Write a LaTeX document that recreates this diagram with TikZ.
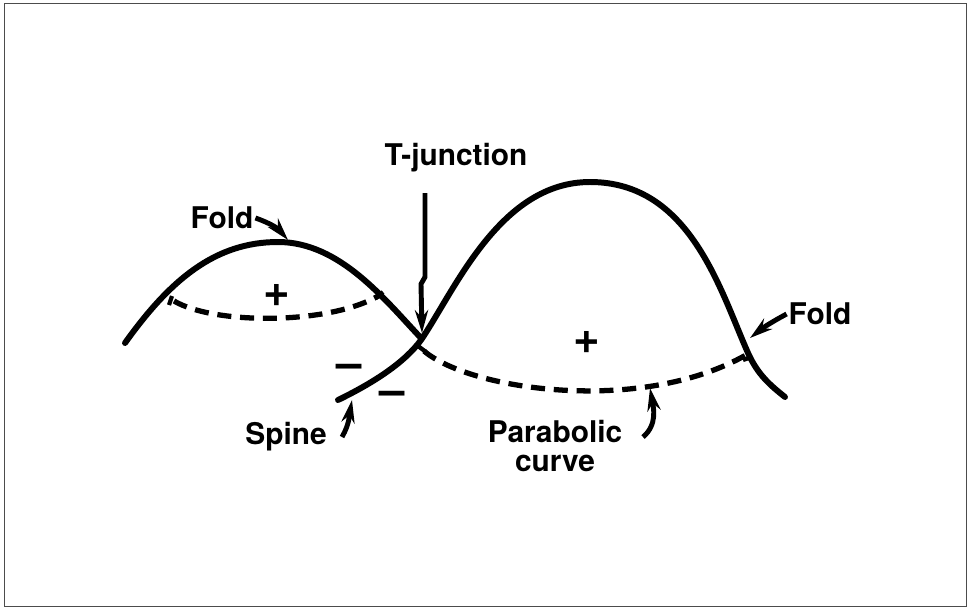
\documentclass[tikz,border=0pt]{standalone}
\usepackage{fontspec}
\setmainfont{TeX Gyre Heros}
\usetikzlibrary{arrows.meta, positioning}

\begin{document}
\begin{tikzpicture}[x=0.02cm, y=-0.02cm,
    foldline/.style={line width=3.4pt, line cap=round},
    parabolic/.style={line width=3pt, dash pattern=on 8pt off 5pt},
    tickmark/.style={line width=2.4pt},
    pointer/.style={line width=2.8pt, -{Stealth[length=13pt, width=7.5pt]}},
    labeltext/.style={font=\bfseries\fontsize{17}{18}\selectfont, inner sep=1pt},
    signtext/.style={font=\bfseries\fontsize{26}{26}\selectfont, inner sep=0pt}]
  \useasboundingbox (0,0) rectangle (969,609);
  % Frame
  \draw[line width=0.5pt, black!70] (4,3) rectangle (966,606);

  % Small hump with its fold
  \draw[foldline] (125,343) .. controls (170,280) and (215,242) .. (278,242)
    .. controls (340,242) and (385,300) .. (421,338);

  % Spine rising into the big hump
  \draw[foldline] (338,400) .. controls (375,382) and (405,362) .. (421,340)
    .. controls (455,290) and (500,182) .. (590,182)
    .. controls (690,182) and (720,290) .. (748,353)
    .. controls (758,375) and (770,385) .. (785,397);

  % Parabolic curves
  \draw[parabolic] (174,301) .. controls (215,325) and (330,325) .. (380,295);
  \draw[parabolic] (424,351) .. controls (470,390) and (640,415) .. (746,355);
  \draw[tickmark] (172,296) -- (169,305);
  \draw[tickmark] (376,298) -- (383,292);
  \draw[tickmark] (418,346) -- (426,352);
  \draw[tickmark] (743,360) -- (752,357);

  % Signs
  \node[signtext] (plusL) at (277,295) {+};
  \node[signtext] (plusR) at (587,342) {+};
  \node[signtext] (minusA) at (349,371) {–};
  \node[signtext] (minusB) at (392,398) {–};

  % Points on the curves
  \coordinate (foldLpt) at (288,240);
  \coordinate (foldRpt) at (750,338);
  \coordinate (tjpt) at (422,333);
  \coordinate (spinept) at (352,400);
  \coordinate (parpt) at (650,388);

  % Labels
  \node[labeltext] (tjlbl) at (456,158) {T-junction};
  \node[labeltext] (foldLlbl) at (222,218) {Fold};
  \node[labeltext] (foldRlbl) at (820,314) {Fold};
  \node[labeltext] (spinelbl) at (286,437) {Spine};
  \node[labeltext, align=center, font=\bfseries\fontsize{17}{15}\selectfont]
    (parlbl) at (555,446) {Parabolic\\[1pt]curve};

  % Pointers
  \draw[pointer] (425,193) -- (425,277) -- (421,284) -- (tjpt);
  \draw[pointer] (foldLlbl.east) to[bend left=15] (foldLpt);
  \draw[pointer] (foldRlbl.west) to[bend right=5] (foldRpt);
  \draw[pointer] (342,437) to[out=60, in=-100] (spinept);
  \draw[pointer] (643,437) to[out=40, in=-80] (parpt);
\end{tikzpicture}
\end{document}
